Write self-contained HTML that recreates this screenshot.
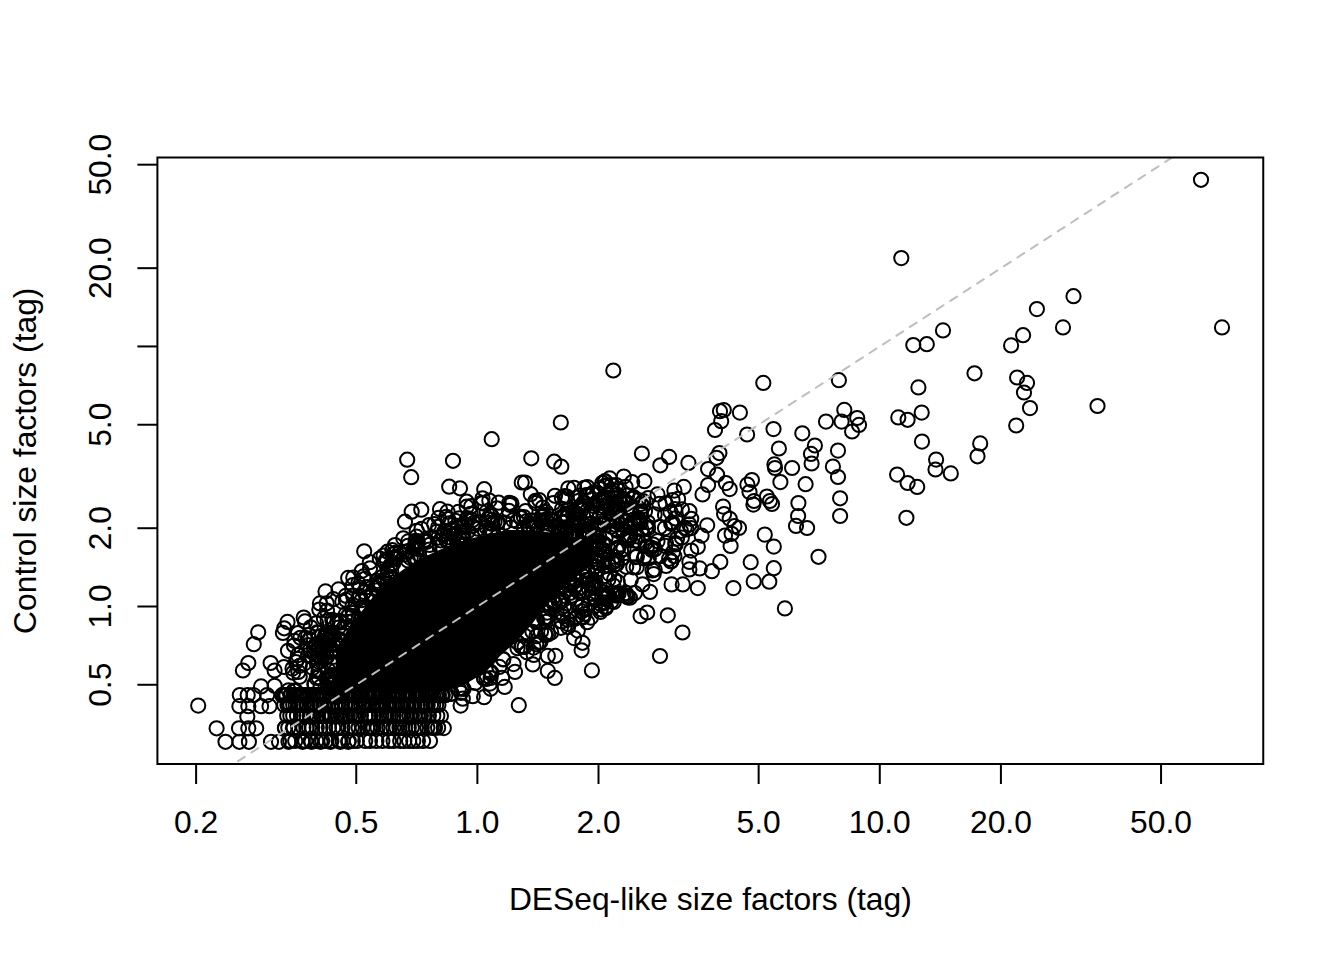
<!DOCTYPE html><html><head><meta charset="utf-8"><style>html,body{margin:0;padding:0;width:1344px;height:960px;overflow:hidden;background:#fff}</style></head><body><svg width="1344" height="960" viewBox="0 0 1344 960" style="position:absolute;left:0;top:0">
<clipPath id="cp"><rect x="157.4" y="157.5" width="1105.85" height="606.5"/></clipPath>
<g clip-path="url(#cp)">
<path d="M335.0 692.0 L336.0 650.0 L350.0 625.0 L366.0 606.0 L382.0 585.0 L404.0 569.0 L424.0 557.0 L446.0 547.0 L469.0 539.0 L489.0 534.0 L507.0 530.0 L522.0 530.0 L540.0 531.0 L560.0 534.0 L585.0 540.0 L600.0 550.0 L592.0 565.0 L570.0 582.0 L548.0 603.0 L532.0 624.0 L518.0 640.0 L500.0 656.0 L486.0 672.0 L462.0 686.0 L440.0 692.0Z" fill="#000"/>
<g fill="none" stroke="#000" stroke-width="2">
<circle cx="1201.0" cy="179.8" r="7.1"/>
<circle cx="1073.5" cy="296.2" r="7.1"/>
<circle cx="1036.9" cy="309.1" r="7.1"/>
<circle cx="1063.0" cy="327.4" r="7.1"/>
<circle cx="1222.0" cy="327.4" r="7.1"/>
<circle cx="1023.1" cy="335.2" r="7.1"/>
<circle cx="1011.1" cy="345.4" r="7.1"/>
<circle cx="1017.1" cy="377.5" r="7.1"/>
<circle cx="1027.0" cy="382.9" r="7.1"/>
<circle cx="1024.0" cy="392.5" r="7.1"/>
<circle cx="1030.0" cy="408.1" r="7.1"/>
<circle cx="1016.2" cy="425.5" r="7.1"/>
<circle cx="1097.5" cy="406.0" r="7.1"/>
<circle cx="901.3" cy="258.1" r="7.1"/>
<circle cx="943.0" cy="330.4" r="7.1"/>
<circle cx="913.3" cy="345.1" r="7.1"/>
<circle cx="926.8" cy="344.2" r="7.1"/>
<circle cx="974.5" cy="373.3" r="7.1"/>
<circle cx="918.4" cy="387.4" r="7.1"/>
<circle cx="838.9" cy="380.2" r="7.1"/>
<circle cx="763.3" cy="382.9" r="7.1"/>
<circle cx="739.9" cy="412.6" r="7.1"/>
<circle cx="844.3" cy="409.9" r="7.1"/>
<circle cx="857.2" cy="418.0" r="7.1"/>
<circle cx="826.0" cy="421.6" r="7.1"/>
<circle cx="841.6" cy="421.6" r="7.1"/>
<circle cx="859.0" cy="424.9" r="7.1"/>
<circle cx="852.1" cy="431.5" r="7.1"/>
<circle cx="898.3" cy="417.4" r="7.1"/>
<circle cx="907.6" cy="419.8" r="7.1"/>
<circle cx="921.7" cy="412.6" r="7.1"/>
<circle cx="773.5" cy="429.1" r="7.1"/>
<circle cx="747.1" cy="434.5" r="7.1"/>
<circle cx="802.3" cy="433.3" r="7.1"/>
<circle cx="922.0" cy="441.6" r="7.1"/>
<circle cx="980.2" cy="443.4" r="7.1"/>
<circle cx="977.5" cy="456.3" r="7.1"/>
<circle cx="778.9" cy="448.5" r="7.1"/>
<circle cx="814.9" cy="445.5" r="7.1"/>
<circle cx="811.0" cy="453.9" r="7.1"/>
<circle cx="838.0" cy="450.6" r="7.1"/>
<circle cx="811.6" cy="463.5" r="7.1"/>
<circle cx="774.4" cy="464.4" r="7.1"/>
<circle cx="775.0" cy="468.0" r="7.1"/>
<circle cx="792.1" cy="468.0" r="7.1"/>
<circle cx="832.9" cy="466.5" r="7.1"/>
<circle cx="838.0" cy="477.0" r="7.1"/>
<circle cx="897.1" cy="474.6" r="7.1"/>
<circle cx="936.1" cy="459.6" r="7.1"/>
<circle cx="935.5" cy="469.5" r="7.1"/>
<circle cx="950.8" cy="473.4" r="7.1"/>
<circle cx="907.6" cy="483.0" r="7.1"/>
<circle cx="917.2" cy="486.9" r="7.1"/>
<circle cx="751.9" cy="480.0" r="7.1"/>
<circle cx="747.4" cy="484.5" r="7.1"/>
<circle cx="749.5" cy="492.0" r="7.1"/>
<circle cx="780.4" cy="482.1" r="7.1"/>
<circle cx="805.6" cy="484.2" r="7.1"/>
<circle cx="766.9" cy="496.5" r="7.1"/>
<circle cx="769.9" cy="501.0" r="7.1"/>
<circle cx="772.0" cy="504.0" r="7.1"/>
<circle cx="754.0" cy="501.0" r="7.1"/>
<circle cx="753.4" cy="504.6" r="7.1"/>
<circle cx="798.4" cy="503.1" r="7.1"/>
<circle cx="798.1" cy="516.0" r="7.1"/>
<circle cx="796.0" cy="525.9" r="7.1"/>
<circle cx="807.1" cy="528.0" r="7.1"/>
<circle cx="840.1" cy="498.3" r="7.1"/>
<circle cx="840.1" cy="516.0" r="7.1"/>
<circle cx="906.4" cy="517.8" r="7.1"/>
<circle cx="739.0" cy="528.0" r="7.1"/>
<circle cx="764.8" cy="534.6" r="7.1"/>
<circle cx="773.8" cy="546.6" r="7.1"/>
<circle cx="818.5" cy="556.8" r="7.1"/>
<circle cx="750.7" cy="562.2" r="7.1"/>
<circle cx="773.8" cy="568.2" r="7.1"/>
<circle cx="753.7" cy="581.4" r="7.1"/>
<circle cx="769.3" cy="581.7" r="7.1"/>
<circle cx="784.9" cy="608.4" r="7.1"/>
<circle cx="198.2" cy="705.6" r="7.1"/>
<circle cx="216.6" cy="728.3" r="7.1"/>
<circle cx="225.5" cy="741.8" r="7.1"/>
<circle cx="258.2" cy="632.3" r="7.1"/>
<circle cx="253.8" cy="644.2" r="7.1"/>
<circle cx="248.3" cy="663.0" r="7.1"/>
<circle cx="242.9" cy="670.5" r="7.1"/>
<circle cx="270.6" cy="663.0" r="7.1"/>
<circle cx="274.6" cy="670.5" r="7.1"/>
<circle cx="261.1" cy="686.4" r="7.1"/>
<circle cx="274.6" cy="685.8" r="7.1"/>
<circle cx="282.9" cy="632.9" r="7.1"/>
<circle cx="287.5" cy="621.9" r="7.1"/>
<circle cx="303.7" cy="617.5" r="7.1"/>
<circle cx="325.5" cy="591.4" r="7.1"/>
<circle cx="348.2" cy="577.9" r="7.1"/>
<circle cx="239.8" cy="695.1" r="7.1"/>
<circle cx="247.7" cy="695.1" r="7.1"/>
<circle cx="253.6" cy="695.1" r="7.1"/>
<circle cx="267.1" cy="695.1" r="7.1"/>
<circle cx="282.9" cy="695.1" r="7.1"/>
<circle cx="239.4" cy="706.2" r="7.1"/>
<circle cx="248.3" cy="706.2" r="7.1"/>
<circle cx="261.1" cy="706.2" r="7.1"/>
<circle cx="269.5" cy="706.2" r="7.1"/>
<circle cx="247.3" cy="716.5" r="7.1"/>
<circle cx="239.0" cy="728.3" r="7.1"/>
<circle cx="248.3" cy="728.3" r="7.1"/>
<circle cx="256.2" cy="728.3" r="7.1"/>
<circle cx="284.9" cy="728.3" r="7.1"/>
<circle cx="292.8" cy="728.3" r="7.1"/>
<circle cx="239.4" cy="741.8" r="7.1"/>
<circle cx="248.9" cy="741.8" r="7.1"/>
<circle cx="271.0" cy="741.8" r="7.1"/>
<circle cx="279.0" cy="741.8" r="7.1"/>
<circle cx="288.5" cy="741.8" r="7.1"/>
<circle cx="302.7" cy="741.8" r="7.1"/>
<circle cx="311.6" cy="741.8" r="7.1"/>
<circle cx="320.5" cy="741.8" r="7.1"/>
<circle cx="330.4" cy="741.8" r="7.1"/>
<circle cx="340.3" cy="741.8" r="7.1"/>
<circle cx="348.2" cy="741.8" r="7.1"/>
<circle cx="411.2" cy="477.2" r="7.1"/>
<circle cx="411.7" cy="511.7" r="7.1"/>
<circle cx="421.3" cy="509.7" r="7.1"/>
<circle cx="405.0" cy="521.7" r="7.1"/>
<circle cx="364.2" cy="551.3" r="7.1"/>
<circle cx="387.5" cy="551.7" r="7.1"/>
<circle cx="403.3" cy="538.3" r="7.1"/>
<circle cx="395.0" cy="545.0" r="7.1"/>
<circle cx="416.7" cy="530.8" r="7.1"/>
<circle cx="353.3" cy="577.5" r="7.1"/>
<circle cx="358.3" cy="583.3" r="7.1"/>
<circle cx="370.0" cy="568.3" r="7.1"/>
<circle cx="345.8" cy="595.8" r="7.1"/>
<circle cx="326.7" cy="603.3" r="7.1"/>
<circle cx="333.3" cy="599.2" r="7.1"/>
<circle cx="284.2" cy="628.3" r="7.1"/>
<circle cx="560.8" cy="422.5" r="7.1"/>
<circle cx="491.7" cy="439.2" r="7.1"/>
<circle cx="453.0" cy="460.8" r="7.1"/>
<circle cx="531.3" cy="458.3" r="7.1"/>
<circle cx="554.2" cy="461.7" r="7.1"/>
<circle cx="561.3" cy="466.7" r="7.1"/>
<circle cx="407.2" cy="459.7" r="7.1"/>
<circle cx="449.2" cy="486.7" r="7.1"/>
<circle cx="460.0" cy="488.3" r="7.1"/>
<circle cx="484.2" cy="489.2" r="7.1"/>
<circle cx="521.7" cy="482.5" r="7.1"/>
<circle cx="525.0" cy="482.5" r="7.1"/>
<circle cx="530.8" cy="494.2" r="7.1"/>
<circle cx="539.2" cy="500.0" r="7.1"/>
<circle cx="555.0" cy="495.8" r="7.1"/>
<circle cx="568.3" cy="488.3" r="7.1"/>
<circle cx="440.0" cy="509.2" r="7.1"/>
<circle cx="447.5" cy="511.7" r="7.1"/>
<circle cx="466.7" cy="501.7" r="7.1"/>
<circle cx="466.7" cy="506.7" r="7.1"/>
<circle cx="482.5" cy="503.3" r="7.1"/>
<circle cx="482.5" cy="498.3" r="7.1"/>
<circle cx="510.0" cy="505.0" r="7.1"/>
<circle cx="496.7" cy="508.3" r="7.1"/>
<circle cx="434.2" cy="524.2" r="7.1"/>
<circle cx="459.2" cy="518.3" r="7.1"/>
<circle cx="449.2" cy="523.3" r="7.1"/>
<circle cx="641.9" cy="453.5" r="7.1"/>
<circle cx="669.1" cy="456.9" r="7.1"/>
<circle cx="660.3" cy="465.3" r="7.1"/>
<circle cx="688.4" cy="462.9" r="7.1"/>
<circle cx="719.4" cy="453.1" r="7.1"/>
<circle cx="716.6" cy="457.8" r="7.1"/>
<circle cx="708.1" cy="469.1" r="7.1"/>
<circle cx="717.1" cy="474.7" r="7.1"/>
<circle cx="725.9" cy="483.1" r="7.1"/>
<circle cx="729.7" cy="489.1" r="7.1"/>
<circle cx="708.1" cy="485.0" r="7.1"/>
<circle cx="702.5" cy="494.4" r="7.1"/>
<circle cx="683.8" cy="486.9" r="7.1"/>
<circle cx="674.4" cy="490.6" r="7.1"/>
<circle cx="644.4" cy="481.2" r="7.1"/>
<circle cx="632.2" cy="482.2" r="7.1"/>
<circle cx="623.8" cy="476.6" r="7.1"/>
<circle cx="609.7" cy="478.4" r="7.1"/>
<circle cx="605.0" cy="481.2" r="7.1"/>
<circle cx="599.4" cy="488.8" r="7.1"/>
<circle cx="584.4" cy="487.8" r="7.1"/>
<circle cx="586.2" cy="495.3" r="7.1"/>
<circle cx="574.1" cy="487.8" r="7.1"/>
<circle cx="564.7" cy="496.2" r="7.1"/>
<circle cx="623.8" cy="500.0" r="7.1"/>
<circle cx="607.8" cy="505.6" r="7.1"/>
<circle cx="616.2" cy="485.0" r="7.1"/>
<circle cx="625.6" cy="486.9" r="7.1"/>
<circle cx="657.5" cy="494.4" r="7.1"/>
<circle cx="648.1" cy="498.1" r="7.1"/>
<circle cx="672.5" cy="500.0" r="7.1"/>
<circle cx="659.4" cy="503.8" r="7.1"/>
<circle cx="681.9" cy="509.4" r="7.1"/>
<circle cx="689.4" cy="511.2" r="7.1"/>
<circle cx="691.2" cy="518.8" r="7.1"/>
<circle cx="689.4" cy="524.4" r="7.1"/>
<circle cx="691.2" cy="528.1" r="7.1"/>
<circle cx="707.2" cy="525.3" r="7.1"/>
<circle cx="701.6" cy="535.6" r="7.1"/>
<circle cx="723.1" cy="506.6" r="7.1"/>
<circle cx="724.1" cy="514.1" r="7.1"/>
<circle cx="729.7" cy="518.8" r="7.1"/>
<circle cx="734.4" cy="526.2" r="7.1"/>
<circle cx="725.0" cy="535.6" r="7.1"/>
<circle cx="731.6" cy="533.8" r="7.1"/>
<circle cx="730.6" cy="545.9" r="7.1"/>
<circle cx="720.3" cy="561.9" r="7.1"/>
<circle cx="711.9" cy="571.2" r="7.1"/>
<circle cx="699.7" cy="568.4" r="7.1"/>
<circle cx="689.4" cy="561.9" r="7.1"/>
<circle cx="689.4" cy="569.4" r="7.1"/>
<circle cx="691.2" cy="550.6" r="7.1"/>
<circle cx="697.8" cy="546.9" r="7.1"/>
<circle cx="674.4" cy="556.2" r="7.1"/>
<circle cx="660.3" cy="556.2" r="7.1"/>
<circle cx="654.7" cy="569.4" r="7.1"/>
<circle cx="671.6" cy="584.4" r="7.1"/>
<circle cx="682.8" cy="584.4" r="7.1"/>
<circle cx="697.8" cy="588.1" r="7.1"/>
<circle cx="733.4" cy="588.1" r="7.1"/>
<circle cx="650.0" cy="591.9" r="7.1"/>
<circle cx="642.5" cy="584.4" r="7.1"/>
<circle cx="625.6" cy="595.6" r="7.1"/>
<circle cx="616.2" cy="593.8" r="7.1"/>
<circle cx="667.8" cy="615.3" r="7.1"/>
<circle cx="647.2" cy="612.5" r="7.1"/>
<circle cx="640.6" cy="616.2" r="7.1"/>
<circle cx="672.5" cy="522.5" r="7.1"/>
<circle cx="665.0" cy="528.1" r="7.1"/>
<circle cx="657.5" cy="541.2" r="7.1"/>
<circle cx="675.3" cy="543.1" r="7.1"/>
<circle cx="681.9" cy="537.5" r="7.1"/>
<circle cx="665.0" cy="515.0" r="7.1"/>
<circle cx="640.6" cy="522.5" r="7.1"/>
<circle cx="648.1" cy="528.1" r="7.1"/>
<circle cx="518.8" cy="705.2" r="7.1"/>
<circle cx="591.9" cy="670.4" r="7.1"/>
<circle cx="554.8" cy="677.9" r="7.1"/>
<circle cx="547.8" cy="670.9" r="7.1"/>
<circle cx="555.3" cy="655.9" r="7.1"/>
<circle cx="547.8" cy="655.9" r="7.1"/>
<circle cx="532.8" cy="664.4" r="7.1"/>
<circle cx="515.0" cy="671.9" r="7.1"/>
<circle cx="504.7" cy="686.9" r="7.1"/>
<circle cx="490.6" cy="688.8" r="7.1"/>
<circle cx="484.1" cy="697.2" r="7.1"/>
<circle cx="472.8" cy="696.2" r="7.1"/>
<circle cx="460.6" cy="705.6" r="7.1"/>
<circle cx="443.8" cy="728.1" r="7.1"/>
<circle cx="440.9" cy="715.9" r="7.1"/>
<circle cx="587.2" cy="622.2" r="7.1"/>
<circle cx="577.8" cy="630.6" r="7.1"/>
<circle cx="574.1" cy="638.1" r="7.1"/>
<circle cx="582.5" cy="642.8" r="7.1"/>
<circle cx="581.6" cy="650.3" r="7.1"/>
<circle cx="561.9" cy="612.8" r="7.1"/>
<circle cx="560.9" cy="627.8" r="7.1"/>
<circle cx="605.9" cy="608.1" r="7.1"/>
<circle cx="605.0" cy="602.5" r="7.1"/>
<circle cx="580.6" cy="607.2" r="7.1"/>
<circle cx="540.3" cy="641.9" r="7.1"/>
<circle cx="545.0" cy="634.4" r="7.1"/>
<circle cx="682.5" cy="632.5" r="7.1"/>
<circle cx="660.0" cy="656.0" r="7.1"/>
<circle cx="720.0" cy="411.2" r="7.1"/>
<circle cx="723.8" cy="410.0" r="7.1"/>
<circle cx="721.2" cy="421.2" r="7.1"/>
<circle cx="715.0" cy="430.0" r="7.1"/>
<circle cx="613.3" cy="370.5" r="7.1"/>
<circle cx="611.3" cy="492.1" r="7.1"/>
<circle cx="328.3" cy="678.0" r="7.1"/>
<circle cx="530.3" cy="527.6" r="7.1"/>
<circle cx="560.5" cy="529.4" r="7.1"/>
<circle cx="537.2" cy="524.9" r="7.1"/>
<circle cx="438.6" cy="517.9" r="7.1"/>
<circle cx="571.6" cy="595.7" r="7.1"/>
<circle cx="352.8" cy="585.2" r="7.1"/>
<circle cx="565.3" cy="514.2" r="7.1"/>
<circle cx="415.6" cy="540.9" r="7.1"/>
<circle cx="568.1" cy="627.1" r="7.1"/>
<circle cx="443.6" cy="533.8" r="7.1"/>
<circle cx="616.3" cy="529.3" r="7.1"/>
<circle cx="579.2" cy="592.3" r="7.1"/>
<circle cx="331.7" cy="675.3" r="7.1"/>
<circle cx="463.1" cy="532.0" r="7.1"/>
<circle cx="384.1" cy="580.1" r="7.1"/>
<circle cx="626.2" cy="566.8" r="7.1"/>
<circle cx="590.9" cy="584.7" r="7.1"/>
<circle cx="430.1" cy="553.8" r="7.1"/>
<circle cx="421.5" cy="528.9" r="7.1"/>
<circle cx="595.1" cy="597.8" r="7.1"/>
<circle cx="366.7" cy="597.4" r="7.1"/>
<circle cx="670.5" cy="512.0" r="7.1"/>
<circle cx="536.1" cy="621.2" r="7.1"/>
<circle cx="633.0" cy="522.3" r="7.1"/>
<circle cx="352.8" cy="613.1" r="7.1"/>
<circle cx="520.2" cy="516.5" r="7.1"/>
<circle cx="492.2" cy="524.0" r="7.1"/>
<circle cx="606.6" cy="595.4" r="7.1"/>
<circle cx="587.3" cy="487.0" r="7.1"/>
<circle cx="364.2" cy="591.9" r="7.1"/>
<circle cx="342.5" cy="635.4" r="7.1"/>
<circle cx="551.2" cy="519.3" r="7.1"/>
<circle cx="474.4" cy="522.8" r="7.1"/>
<circle cx="595.3" cy="529.5" r="7.1"/>
<circle cx="323.9" cy="618.3" r="7.1"/>
<circle cx="530.7" cy="520.9" r="7.1"/>
<circle cx="509.2" cy="502.9" r="7.1"/>
<circle cx="337.5" cy="623.0" r="7.1"/>
<circle cx="542.1" cy="516.0" r="7.1"/>
<circle cx="297.4" cy="658.9" r="7.1"/>
<circle cx="616.6" cy="520.7" r="7.1"/>
<circle cx="623.3" cy="535.2" r="7.1"/>
<circle cx="396.1" cy="552.5" r="7.1"/>
<circle cx="640.1" cy="522.9" r="7.1"/>
<circle cx="551.0" cy="605.4" r="7.1"/>
<circle cx="471.2" cy="506.2" r="7.1"/>
<circle cx="340.7" cy="622.4" r="7.1"/>
<circle cx="583.2" cy="617.3" r="7.1"/>
<circle cx="408.2" cy="541.4" r="7.1"/>
<circle cx="328.0" cy="633.8" r="7.1"/>
<circle cx="313.7" cy="694.6" r="7.1"/>
<circle cx="388.1" cy="692.8" r="7.1"/>
<circle cx="533.6" cy="520.7" r="7.1"/>
<circle cx="598.8" cy="500.0" r="7.1"/>
<circle cx="584.1" cy="532.4" r="7.1"/>
<circle cx="295.7" cy="691.1" r="7.1"/>
<circle cx="544.1" cy="618.3" r="7.1"/>
<circle cx="582.4" cy="535.1" r="7.1"/>
<circle cx="547.4" cy="616.8" r="7.1"/>
<circle cx="541.8" cy="517.1" r="7.1"/>
<circle cx="309.6" cy="639.2" r="7.1"/>
<circle cx="353.1" cy="595.7" r="7.1"/>
<circle cx="390.1" cy="565.7" r="7.1"/>
<circle cx="308.1" cy="655.1" r="7.1"/>
<circle cx="630.9" cy="527.7" r="7.1"/>
<circle cx="417.5" cy="548.2" r="7.1"/>
<circle cx="364.6" cy="607.0" r="7.1"/>
<circle cx="626.0" cy="593.2" r="7.1"/>
<circle cx="485.1" cy="531.6" r="7.1"/>
<circle cx="613.8" cy="601.9" r="7.1"/>
<circle cx="399.4" cy="553.1" r="7.1"/>
<circle cx="594.7" cy="524.9" r="7.1"/>
<circle cx="489.5" cy="671.0" r="7.1"/>
<circle cx="414.1" cy="547.7" r="7.1"/>
<circle cx="378.0" cy="585.2" r="7.1"/>
<circle cx="617.3" cy="548.0" r="7.1"/>
<circle cx="475.2" cy="682.9" r="7.1"/>
<circle cx="298.4" cy="672.0" r="7.1"/>
<circle cx="345.9" cy="599.9" r="7.1"/>
<circle cx="622.8" cy="518.8" r="7.1"/>
<circle cx="339.3" cy="620.5" r="7.1"/>
<circle cx="567.1" cy="517.7" r="7.1"/>
<circle cx="329.5" cy="684.5" r="7.1"/>
<circle cx="358.4" cy="599.0" r="7.1"/>
<circle cx="392.3" cy="550.2" r="7.1"/>
<circle cx="588.1" cy="571.7" r="7.1"/>
<circle cx="372.3" cy="595.7" r="7.1"/>
<circle cx="651.9" cy="550.0" r="7.1"/>
<circle cx="617.7" cy="581.8" r="7.1"/>
<circle cx="614.1" cy="497.6" r="7.1"/>
<circle cx="414.6" cy="559.0" r="7.1"/>
<circle cx="590.6" cy="527.7" r="7.1"/>
<circle cx="607.5" cy="546.5" r="7.1"/>
<circle cx="595.8" cy="600.0" r="7.1"/>
<circle cx="377.0" cy="580.9" r="7.1"/>
<circle cx="317.1" cy="632.3" r="7.1"/>
<circle cx="295.9" cy="662.1" r="7.1"/>
<circle cx="536.5" cy="636.2" r="7.1"/>
<circle cx="571.7" cy="583.8" r="7.1"/>
<circle cx="627.8" cy="597.3" r="7.1"/>
<circle cx="588.2" cy="531.7" r="7.1"/>
<circle cx="564.0" cy="517.1" r="7.1"/>
<circle cx="582.3" cy="616.8" r="7.1"/>
<circle cx="643.3" cy="535.1" r="7.1"/>
<circle cx="558.8" cy="602.1" r="7.1"/>
<circle cx="319.3" cy="609.5" r="7.1"/>
<circle cx="566.3" cy="533.3" r="7.1"/>
<circle cx="567.7" cy="528.3" r="7.1"/>
<circle cx="577.4" cy="508.5" r="7.1"/>
<circle cx="609.5" cy="521.0" r="7.1"/>
<circle cx="362.7" cy="609.1" r="7.1"/>
<circle cx="386.9" cy="561.3" r="7.1"/>
<circle cx="567.8" cy="516.2" r="7.1"/>
<circle cx="504.8" cy="522.6" r="7.1"/>
<circle cx="352.9" cy="621.1" r="7.1"/>
<circle cx="438.6" cy="693.7" r="7.1"/>
<circle cx="596.7" cy="512.7" r="7.1"/>
<circle cx="331.7" cy="685.3" r="7.1"/>
<circle cx="352.7" cy="604.9" r="7.1"/>
<circle cx="489.9" cy="532.7" r="7.1"/>
<circle cx="555.0" cy="526.0" r="7.1"/>
<circle cx="342.3" cy="601.6" r="7.1"/>
<circle cx="593.0" cy="505.8" r="7.1"/>
<circle cx="587.3" cy="570.3" r="7.1"/>
<circle cx="528.3" cy="526.3" r="7.1"/>
<circle cx="508.9" cy="510.8" r="7.1"/>
<circle cx="317.6" cy="654.4" r="7.1"/>
<circle cx="605.9" cy="485.3" r="7.1"/>
<circle cx="408.0" cy="560.4" r="7.1"/>
<circle cx="292.5" cy="668.6" r="7.1"/>
<circle cx="334.0" cy="621.0" r="7.1"/>
<circle cx="614.0" cy="556.7" r="7.1"/>
<circle cx="597.1" cy="563.0" r="7.1"/>
<circle cx="616.5" cy="549.9" r="7.1"/>
<circle cx="558.1" cy="526.5" r="7.1"/>
<circle cx="334.6" cy="691.5" r="7.1"/>
<circle cx="626.4" cy="504.1" r="7.1"/>
<circle cx="320.8" cy="657.2" r="7.1"/>
<circle cx="675.6" cy="544.5" r="7.1"/>
<circle cx="333.0" cy="644.7" r="7.1"/>
<circle cx="450.7" cy="693.9" r="7.1"/>
<circle cx="467.6" cy="531.6" r="7.1"/>
<circle cx="653.1" cy="544.5" r="7.1"/>
<circle cx="589.1" cy="604.2" r="7.1"/>
<circle cx="562.1" cy="508.9" r="7.1"/>
<circle cx="567.5" cy="619.7" r="7.1"/>
<circle cx="610.3" cy="508.3" r="7.1"/>
<circle cx="576.2" cy="537.0" r="7.1"/>
<circle cx="454.1" cy="534.2" r="7.1"/>
<circle cx="645.0" cy="511.3" r="7.1"/>
<circle cx="542.7" cy="523.1" r="7.1"/>
<circle cx="561.6" cy="517.0" r="7.1"/>
<circle cx="330.4" cy="652.1" r="7.1"/>
<circle cx="565.3" cy="609.5" r="7.1"/>
<circle cx="575.8" cy="599.0" r="7.1"/>
<circle cx="581.4" cy="510.3" r="7.1"/>
<circle cx="641.0" cy="511.3" r="7.1"/>
<circle cx="589.8" cy="579.6" r="7.1"/>
<circle cx="324.8" cy="658.3" r="7.1"/>
<circle cx="603.5" cy="514.9" r="7.1"/>
<circle cx="588.5" cy="583.1" r="7.1"/>
<circle cx="647.0" cy="546.5" r="7.1"/>
<circle cx="361.5" cy="600.2" r="7.1"/>
<circle cx="595.4" cy="527.5" r="7.1"/>
<circle cx="574.3" cy="587.5" r="7.1"/>
<circle cx="595.2" cy="536.1" r="7.1"/>
<circle cx="600.8" cy="609.4" r="7.1"/>
<circle cx="526.5" cy="632.1" r="7.1"/>
<circle cx="388.7" cy="572.6" r="7.1"/>
<circle cx="553.8" cy="601.6" r="7.1"/>
<circle cx="436.9" cy="531.5" r="7.1"/>
<circle cx="680.9" cy="530.9" r="7.1"/>
<circle cx="659.9" cy="526.9" r="7.1"/>
<circle cx="332.1" cy="649.5" r="7.1"/>
<circle cx="638.4" cy="500.2" r="7.1"/>
<circle cx="294.0" cy="645.5" r="7.1"/>
<circle cx="319.0" cy="669.6" r="7.1"/>
<circle cx="335.5" cy="670.5" r="7.1"/>
<circle cx="604.3" cy="497.3" r="7.1"/>
<circle cx="608.7" cy="497.5" r="7.1"/>
<circle cx="553.2" cy="503.0" r="7.1"/>
<circle cx="333.1" cy="681.4" r="7.1"/>
<circle cx="369.8" cy="562.2" r="7.1"/>
<circle cx="665.2" cy="545.9" r="7.1"/>
<circle cx="491.8" cy="516.3" r="7.1"/>
<circle cx="329.4" cy="679.4" r="7.1"/>
<circle cx="596.5" cy="534.4" r="7.1"/>
<circle cx="561.5" cy="532.3" r="7.1"/>
<circle cx="443.0" cy="535.3" r="7.1"/>
<circle cx="393.1" cy="558.0" r="7.1"/>
<circle cx="462.8" cy="698.7" r="7.1"/>
<circle cx="566.5" cy="590.6" r="7.1"/>
<circle cx="613.3" cy="512.4" r="7.1"/>
<circle cx="318.6" cy="677.3" r="7.1"/>
<circle cx="638.3" cy="519.0" r="7.1"/>
<circle cx="417.4" cy="694.9" r="7.1"/>
<circle cx="545.9" cy="634.9" r="7.1"/>
<circle cx="570.2" cy="592.9" r="7.1"/>
<circle cx="310.7" cy="627.3" r="7.1"/>
<circle cx="517.7" cy="642.5" r="7.1"/>
<circle cx="611.8" cy="489.4" r="7.1"/>
<circle cx="646.1" cy="527.5" r="7.1"/>
<circle cx="310.2" cy="649.7" r="7.1"/>
<circle cx="305.0" cy="621.4" r="7.1"/>
<circle cx="314.9" cy="684.6" r="7.1"/>
<circle cx="547.2" cy="612.6" r="7.1"/>
<circle cx="589.5" cy="534.2" r="7.1"/>
<circle cx="639.2" cy="521.3" r="7.1"/>
<circle cx="348.6" cy="615.4" r="7.1"/>
<circle cx="448.4" cy="537.2" r="7.1"/>
<circle cx="669.2" cy="558.8" r="7.1"/>
<circle cx="552.1" cy="521.1" r="7.1"/>
<circle cx="593.6" cy="585.1" r="7.1"/>
<circle cx="574.1" cy="619.0" r="7.1"/>
<circle cx="618.6" cy="490.6" r="7.1"/>
<circle cx="362.4" cy="608.0" r="7.1"/>
<circle cx="299.7" cy="676.8" r="7.1"/>
<circle cx="478.5" cy="522.3" r="7.1"/>
<circle cx="586.0" cy="532.0" r="7.1"/>
<circle cx="630.8" cy="579.6" r="7.1"/>
<circle cx="569.6" cy="533.7" r="7.1"/>
<circle cx="394.8" cy="694.1" r="7.1"/>
<circle cx="592.2" cy="593.8" r="7.1"/>
<circle cx="465.2" cy="524.3" r="7.1"/>
<circle cx="613.4" cy="585.6" r="7.1"/>
<circle cx="585.5" cy="537.9" r="7.1"/>
<circle cx="369.4" cy="695.9" r="7.1"/>
<circle cx="386.1" cy="559.8" r="7.1"/>
<circle cx="653.7" cy="574.1" r="7.1"/>
<circle cx="329.4" cy="645.5" r="7.1"/>
<circle cx="593.3" cy="492.5" r="7.1"/>
<circle cx="586.6" cy="580.0" r="7.1"/>
<circle cx="561.6" cy="599.2" r="7.1"/>
<circle cx="360.0" cy="596.2" r="7.1"/>
<circle cx="535.5" cy="500.8" r="7.1"/>
<circle cx="621.4" cy="558.4" r="7.1"/>
<circle cx="641.5" cy="529.6" r="7.1"/>
<circle cx="595.3" cy="581.9" r="7.1"/>
<circle cx="329.5" cy="688.0" r="7.1"/>
<circle cx="648.8" cy="558.3" r="7.1"/>
<circle cx="666.0" cy="543.2" r="7.1"/>
<circle cx="419.1" cy="554.7" r="7.1"/>
<circle cx="587.0" cy="495.2" r="7.1"/>
<circle cx="605.9" cy="606.4" r="7.1"/>
<circle cx="627.1" cy="596.7" r="7.1"/>
<circle cx="528.3" cy="525.2" r="7.1"/>
<circle cx="327.3" cy="644.6" r="7.1"/>
<circle cx="391.2" cy="571.3" r="7.1"/>
<circle cx="638.2" cy="541.2" r="7.1"/>
<circle cx="323.1" cy="651.7" r="7.1"/>
<circle cx="584.9" cy="534.9" r="7.1"/>
<circle cx="674.8" cy="509.0" r="7.1"/>
<circle cx="417.6" cy="542.0" r="7.1"/>
<circle cx="632.7" cy="498.7" r="7.1"/>
<circle cx="316.7" cy="677.9" r="7.1"/>
<circle cx="383.6" cy="555.6" r="7.1"/>
<circle cx="603.3" cy="602.5" r="7.1"/>
<circle cx="497.8" cy="522.0" r="7.1"/>
<circle cx="545.9" cy="621.8" r="7.1"/>
<circle cx="608.3" cy="596.8" r="7.1"/>
<circle cx="387.5" cy="570.2" r="7.1"/>
<circle cx="416.3" cy="543.6" r="7.1"/>
<circle cx="499.3" cy="666.9" r="7.1"/>
<circle cx="570.6" cy="535.6" r="7.1"/>
<circle cx="492.1" cy="530.9" r="7.1"/>
<circle cx="546.0" cy="618.0" r="7.1"/>
<circle cx="640.9" cy="504.0" r="7.1"/>
<circle cx="558.6" cy="528.0" r="7.1"/>
<circle cx="573.3" cy="530.9" r="7.1"/>
<circle cx="463.5" cy="688.9" r="7.1"/>
<circle cx="543.7" cy="515.4" r="7.1"/>
<circle cx="654.6" cy="514.4" r="7.1"/>
<circle cx="600.9" cy="604.2" r="7.1"/>
<circle cx="564.5" cy="521.9" r="7.1"/>
<circle cx="327.0" cy="656.8" r="7.1"/>
<circle cx="614.3" cy="595.0" r="7.1"/>
<circle cx="444.7" cy="531.0" r="7.1"/>
<circle cx="484.2" cy="678.4" r="7.1"/>
<circle cx="326.9" cy="639.4" r="7.1"/>
<circle cx="671.2" cy="523.8" r="7.1"/>
<circle cx="571.9" cy="525.1" r="7.1"/>
<circle cx="555.0" cy="602.2" r="7.1"/>
<circle cx="550.0" cy="524.0" r="7.1"/>
<circle cx="340.4" cy="641.5" r="7.1"/>
<circle cx="522.0" cy="646.4" r="7.1"/>
<circle cx="490.7" cy="673.4" r="7.1"/>
<circle cx="574.9" cy="586.3" r="7.1"/>
<circle cx="611.7" cy="513.8" r="7.1"/>
<circle cx="626.7" cy="522.2" r="7.1"/>
<circle cx="457.1" cy="542.1" r="7.1"/>
<circle cx="568.2" cy="584.9" r="7.1"/>
<circle cx="516.9" cy="521.4" r="7.1"/>
<circle cx="598.9" cy="548.7" r="7.1"/>
<circle cx="608.5" cy="565.6" r="7.1"/>
<circle cx="293.9" cy="690.6" r="7.1"/>
<circle cx="631.4" cy="525.4" r="7.1"/>
<circle cx="675.5" cy="518.4" r="7.1"/>
<circle cx="578.3" cy="588.7" r="7.1"/>
<circle cx="652.5" cy="570.4" r="7.1"/>
<circle cx="583.8" cy="506.1" r="7.1"/>
<circle cx="391.5" cy="564.9" r="7.1"/>
<circle cx="319.1" cy="655.2" r="7.1"/>
<circle cx="635.0" cy="540.7" r="7.1"/>
<circle cx="379.8" cy="558.6" r="7.1"/>
<circle cx="617.3" cy="522.3" r="7.1"/>
<circle cx="629.9" cy="597.7" r="7.1"/>
<circle cx="308.3" cy="635.1" r="7.1"/>
<circle cx="548.9" cy="528.7" r="7.1"/>
<circle cx="327.0" cy="635.7" r="7.1"/>
<circle cx="336.7" cy="696.8" r="7.1"/>
<circle cx="462.4" cy="527.6" r="7.1"/>
<circle cx="567.9" cy="624.0" r="7.1"/>
<circle cx="617.3" cy="494.8" r="7.1"/>
<circle cx="448.2" cy="540.1" r="7.1"/>
<circle cx="486.5" cy="678.9" r="7.1"/>
<circle cx="347.7" cy="621.9" r="7.1"/>
<circle cx="615.7" cy="525.0" r="7.1"/>
<circle cx="390.6" cy="576.9" r="7.1"/>
<circle cx="493.1" cy="533.1" r="7.1"/>
<circle cx="620.5" cy="507.7" r="7.1"/>
<circle cx="486.7" cy="527.6" r="7.1"/>
<circle cx="333.9" cy="663.6" r="7.1"/>
<circle cx="601.9" cy="525.0" r="7.1"/>
<circle cx="623.1" cy="594.7" r="7.1"/>
<circle cx="513.2" cy="520.2" r="7.1"/>
<circle cx="599.9" cy="516.8" r="7.1"/>
<circle cx="627.9" cy="540.1" r="7.1"/>
<circle cx="665.6" cy="503.3" r="7.1"/>
<circle cx="633.2" cy="567.3" r="7.1"/>
<circle cx="502.1" cy="677.9" r="7.1"/>
<circle cx="498.7" cy="502.7" r="7.1"/>
<circle cx="564.3" cy="605.8" r="7.1"/>
<circle cx="638.7" cy="519.7" r="7.1"/>
<circle cx="580.1" cy="495.7" r="7.1"/>
<circle cx="586.7" cy="579.8" r="7.1"/>
<circle cx="410.7" cy="558.1" r="7.1"/>
<circle cx="599.3" cy="536.5" r="7.1"/>
<circle cx="559.5" cy="600.1" r="7.1"/>
<circle cx="546.0" cy="519.5" r="7.1"/>
<circle cx="612.5" cy="562.8" r="7.1"/>
<circle cx="623.4" cy="499.2" r="7.1"/>
<circle cx="591.5" cy="523.7" r="7.1"/>
<circle cx="338.5" cy="627.6" r="7.1"/>
<circle cx="640.0" cy="512.5" r="7.1"/>
<circle cx="583.1" cy="576.3" r="7.1"/>
<circle cx="329.8" cy="680.9" r="7.1"/>
<circle cx="304.2" cy="663.6" r="7.1"/>
<circle cx="604.4" cy="559.8" r="7.1"/>
<circle cx="363.6" cy="576.4" r="7.1"/>
<circle cx="416.5" cy="536.7" r="7.1"/>
<circle cx="523.9" cy="517.0" r="7.1"/>
<circle cx="511.5" cy="503.5" r="7.1"/>
<circle cx="294.5" cy="640.9" r="7.1"/>
<circle cx="622.5" cy="529.3" r="7.1"/>
<circle cx="332.3" cy="634.7" r="7.1"/>
<circle cx="623.5" cy="548.8" r="7.1"/>
<circle cx="461.0" cy="692.9" r="7.1"/>
<circle cx="378.3" cy="697.0" r="7.1"/>
<circle cx="550.5" cy="608.3" r="7.1"/>
<circle cx="595.9" cy="528.1" r="7.1"/>
<circle cx="328.2" cy="670.0" r="7.1"/>
<circle cx="393.2" cy="563.6" r="7.1"/>
<circle cx="314.3" cy="684.1" r="7.1"/>
<circle cx="575.1" cy="519.0" r="7.1"/>
<circle cx="339.2" cy="639.0" r="7.1"/>
<circle cx="615.5" cy="504.0" r="7.1"/>
<circle cx="417.6" cy="541.3" r="7.1"/>
<circle cx="585.1" cy="609.4" r="7.1"/>
<circle cx="616.9" cy="564.1" r="7.1"/>
<circle cx="319.9" cy="603.4" r="7.1"/>
<circle cx="487.8" cy="519.1" r="7.1"/>
<circle cx="472.3" cy="520.2" r="7.1"/>
<circle cx="330.0" cy="639.3" r="7.1"/>
<circle cx="387.6" cy="578.9" r="7.1"/>
<circle cx="336.5" cy="644.8" r="7.1"/>
<circle cx="327.7" cy="621.1" r="7.1"/>
<circle cx="415.9" cy="544.5" r="7.1"/>
<circle cx="470.6" cy="513.8" r="7.1"/>
<circle cx="546.2" cy="527.8" r="7.1"/>
<circle cx="533.4" cy="527.1" r="7.1"/>
<circle cx="347.6" cy="616.9" r="7.1"/>
<circle cx="588.9" cy="588.8" r="7.1"/>
<circle cx="454.3" cy="529.5" r="7.1"/>
<circle cx="677.0" cy="538.7" r="7.1"/>
<circle cx="524.5" cy="635.5" r="7.1"/>
<circle cx="587.4" cy="530.5" r="7.1"/>
<circle cx="416.0" cy="695.4" r="7.1"/>
<circle cx="308.3" cy="645.1" r="7.1"/>
<circle cx="666.1" cy="565.9" r="7.1"/>
<circle cx="391.3" cy="565.8" r="7.1"/>
<circle cx="615.5" cy="564.1" r="7.1"/>
<circle cx="439.7" cy="546.9" r="7.1"/>
<circle cx="426.8" cy="541.8" r="7.1"/>
<circle cx="592.6" cy="494.0" r="7.1"/>
<circle cx="615.6" cy="507.6" r="7.1"/>
<circle cx="605.0" cy="501.2" r="7.1"/>
<circle cx="575.8" cy="580.8" r="7.1"/>
<circle cx="312.7" cy="668.0" r="7.1"/>
<circle cx="334.7" cy="639.7" r="7.1"/>
<circle cx="305.3" cy="637.9" r="7.1"/>
<circle cx="438.3" cy="537.6" r="7.1"/>
<circle cx="462.3" cy="524.9" r="7.1"/>
<circle cx="316.1" cy="623.3" r="7.1"/>
<circle cx="517.5" cy="648.2" r="7.1"/>
<circle cx="595.4" cy="588.1" r="7.1"/>
<circle cx="424.0" cy="541.5" r="7.1"/>
<circle cx="538.7" cy="642.7" r="7.1"/>
<circle cx="606.3" cy="554.0" r="7.1"/>
<circle cx="594.9" cy="503.7" r="7.1"/>
<circle cx="414.9" cy="546.9" r="7.1"/>
<circle cx="417.5" cy="560.6" r="7.1"/>
<circle cx="448.3" cy="532.9" r="7.1"/>
<circle cx="481.6" cy="502.8" r="7.1"/>
<circle cx="546.0" cy="512.1" r="7.1"/>
<circle cx="604.9" cy="575.9" r="7.1"/>
<circle cx="458.4" cy="511.9" r="7.1"/>
<circle cx="600.4" cy="612.0" r="7.1"/>
<circle cx="671.0" cy="561.4" r="7.1"/>
<circle cx="330.6" cy="634.5" r="7.1"/>
<circle cx="325.8" cy="640.3" r="7.1"/>
<circle cx="342.0" cy="692.8" r="7.1"/>
<circle cx="617.2" cy="530.7" r="7.1"/>
<circle cx="567.7" cy="509.5" r="7.1"/>
<circle cx="565.4" cy="534.3" r="7.1"/>
<circle cx="635.8" cy="557.1" r="7.1"/>
<circle cx="314.3" cy="651.5" r="7.1"/>
<circle cx="602.7" cy="543.2" r="7.1"/>
<circle cx="580.0" cy="591.1" r="7.1"/>
<circle cx="315.7" cy="644.7" r="7.1"/>
<circle cx="318.6" cy="661.6" r="7.1"/>
<circle cx="327.0" cy="610.7" r="7.1"/>
<circle cx="492.4" cy="519.9" r="7.1"/>
<circle cx="578.4" cy="517.6" r="7.1"/>
<circle cx="352.8" cy="616.1" r="7.1"/>
<circle cx="586.4" cy="530.0" r="7.1"/>
<circle cx="633.5" cy="497.0" r="7.1"/>
<circle cx="574.9" cy="578.4" r="7.1"/>
<circle cx="535.6" cy="503.1" r="7.1"/>
<circle cx="537.3" cy="620.6" r="7.1"/>
<circle cx="454.8" cy="535.8" r="7.1"/>
<circle cx="382.4" cy="576.8" r="7.1"/>
<circle cx="536.2" cy="644.3" r="7.1"/>
<circle cx="595.3" cy="561.7" r="7.1"/>
<circle cx="326.6" cy="694.4" r="7.1"/>
<circle cx="297.9" cy="633.2" r="7.1"/>
<circle cx="299.7" cy="665.8" r="7.1"/>
<circle cx="608.6" cy="595.1" r="7.1"/>
<circle cx="320.6" cy="686.7" r="7.1"/>
<circle cx="467.2" cy="518.0" r="7.1"/>
<circle cx="326.3" cy="678.0" r="7.1"/>
<circle cx="313.9" cy="647.6" r="7.1"/>
<circle cx="461.3" cy="688.2" r="7.1"/>
<circle cx="564.3" cy="515.9" r="7.1"/>
<circle cx="578.8" cy="591.9" r="7.1"/>
<circle cx="462.2" cy="535.7" r="7.1"/>
<circle cx="321.7" cy="661.0" r="7.1"/>
<circle cx="462.5" cy="526.4" r="7.1"/>
<circle cx="319.3" cy="648.2" r="7.1"/>
<circle cx="332.9" cy="675.2" r="7.1"/>
<circle cx="446.4" cy="540.3" r="7.1"/>
<circle cx="596.9" cy="556.8" r="7.1"/>
<circle cx="599.9" cy="501.1" r="7.1"/>
<circle cx="642.9" cy="506.2" r="7.1"/>
<circle cx="367.3" cy="587.2" r="7.1"/>
<circle cx="596.6" cy="543.1" r="7.1"/>
<circle cx="572.2" cy="535.6" r="7.1"/>
<circle cx="393.6" cy="553.8" r="7.1"/>
<circle cx="573.0" cy="515.1" r="7.1"/>
<circle cx="453.1" cy="529.1" r="7.1"/>
<circle cx="438.3" cy="526.9" r="7.1"/>
<circle cx="564.5" cy="529.7" r="7.1"/>
<circle cx="359.2" cy="693.0" r="7.1"/>
<circle cx="491.5" cy="672.7" r="7.1"/>
<circle cx="459.1" cy="537.9" r="7.1"/>
<circle cx="532.5" cy="631.8" r="7.1"/>
<circle cx="361.8" cy="571.0" r="7.1"/>
<circle cx="451.7" cy="693.6" r="7.1"/>
<circle cx="648.1" cy="558.4" r="7.1"/>
<circle cx="458.8" cy="688.7" r="7.1"/>
<circle cx="317.8" cy="632.9" r="7.1"/>
<circle cx="570.1" cy="535.1" r="7.1"/>
<circle cx="533.6" cy="647.6" r="7.1"/>
<circle cx="283.9" cy="667.0" r="7.1"/>
<circle cx="428.9" cy="525.2" r="7.1"/>
<circle cx="590.8" cy="512.6" r="7.1"/>
<circle cx="536.7" cy="526.3" r="7.1"/>
<circle cx="615.8" cy="503.2" r="7.1"/>
<circle cx="602.5" cy="482.8" r="7.1"/>
<circle cx="565.4" cy="527.3" r="7.1"/>
<circle cx="300.4" cy="637.8" r="7.1"/>
<circle cx="521.1" cy="518.2" r="7.1"/>
<circle cx="584.4" cy="525.0" r="7.1"/>
<circle cx="384.9" cy="562.7" r="7.1"/>
<circle cx="510.9" cy="527.5" r="7.1"/>
<circle cx="576.7" cy="497.6" r="7.1"/>
<circle cx="543.5" cy="514.6" r="7.1"/>
<circle cx="589.5" cy="536.2" r="7.1"/>
<circle cx="335.0" cy="678.3" r="7.1"/>
<circle cx="604.0" cy="592.6" r="7.1"/>
<circle cx="604.4" cy="544.1" r="7.1"/>
<circle cx="486.7" cy="511.7" r="7.1"/>
<circle cx="605.5" cy="538.4" r="7.1"/>
<circle cx="637.6" cy="536.4" r="7.1"/>
<circle cx="293.2" cy="672.7" r="7.1"/>
<circle cx="614.2" cy="579.2" r="7.1"/>
<circle cx="604.3" cy="566.3" r="7.1"/>
<circle cx="497.3" cy="523.1" r="7.1"/>
<circle cx="608.3" cy="579.4" r="7.1"/>
<circle cx="312.3" cy="656.9" r="7.1"/>
<circle cx="625.7" cy="521.6" r="7.1"/>
<circle cx="618.6" cy="593.4" r="7.1"/>
<circle cx="581.8" cy="611.3" r="7.1"/>
<circle cx="561.9" cy="498.0" r="7.1"/>
<circle cx="590.9" cy="617.6" r="7.1"/>
<circle cx="489.3" cy="500.6" r="7.1"/>
<circle cx="385.2" cy="581.1" r="7.1"/>
<circle cx="548.0" cy="529.8" r="7.1"/>
<circle cx="440.5" cy="540.3" r="7.1"/>
<circle cx="627.8" cy="535.8" r="7.1"/>
<circle cx="577.8" cy="525.2" r="7.1"/>
<circle cx="417.8" cy="549.0" r="7.1"/>
<circle cx="541.0" cy="631.4" r="7.1"/>
<circle cx="582.6" cy="592.0" r="7.1"/>
<circle cx="578.9" cy="534.0" r="7.1"/>
<circle cx="316.1" cy="644.6" r="7.1"/>
<circle cx="360.0" cy="587.7" r="7.1"/>
<circle cx="594.3" cy="586.9" r="7.1"/>
<circle cx="604.4" cy="550.6" r="7.1"/>
<circle cx="326.3" cy="651.6" r="7.1"/>
<circle cx="360.2" cy="694.3" r="7.1"/>
<circle cx="396.1" cy="556.9" r="7.1"/>
<circle cx="503.3" cy="659.5" r="7.1"/>
<circle cx="316.9" cy="663.5" r="7.1"/>
<circle cx="333.1" cy="635.6" r="7.1"/>
<circle cx="566.8" cy="496.5" r="7.1"/>
<circle cx="378.6" cy="582.6" r="7.1"/>
<circle cx="408.0" cy="545.8" r="7.1"/>
<circle cx="597.6" cy="542.2" r="7.1"/>
<circle cx="521.3" cy="646.6" r="7.1"/>
<circle cx="573.3" cy="523.6" r="7.1"/>
<circle cx="575.8" cy="585.1" r="7.1"/>
<circle cx="611.3" cy="601.5" r="7.1"/>
<circle cx="630.5" cy="535.0" r="7.1"/>
<circle cx="633.6" cy="519.5" r="7.1"/>
<circle cx="570.6" cy="611.2" r="7.1"/>
<circle cx="553.5" cy="603.3" r="7.1"/>
<circle cx="575.9" cy="618.0" r="7.1"/>
<circle cx="643.2" cy="501.2" r="7.1"/>
<circle cx="533.7" cy="655.0" r="7.1"/>
<circle cx="583.1" cy="503.2" r="7.1"/>
<circle cx="490.2" cy="515.3" r="7.1"/>
<circle cx="627.1" cy="495.5" r="7.1"/>
<circle cx="627.3" cy="502.8" r="7.1"/>
<circle cx="551.2" cy="632.4" r="7.1"/>
<circle cx="424.8" cy="540.0" r="7.1"/>
<circle cx="604.8" cy="486.4" r="7.1"/>
<circle cx="338.5" cy="589.4" r="7.1"/>
<circle cx="405.8" cy="551.7" r="7.1"/>
<circle cx="623.2" cy="501.7" r="7.1"/>
<circle cx="584.2" cy="502.5" r="7.1"/>
<circle cx="636.7" cy="567.3" r="7.1"/>
<circle cx="326.9" cy="645.3" r="7.1"/>
<circle cx="525.5" cy="511.1" r="7.1"/>
<circle cx="523.7" cy="527.5" r="7.1"/>
<circle cx="634.9" cy="593.0" r="7.1"/>
<circle cx="671.4" cy="561.0" r="7.1"/>
<circle cx="686.6" cy="529.5" r="7.1"/>
<circle cx="637.6" cy="518.0" r="7.1"/>
<circle cx="288.6" cy="690.3" r="7.1"/>
<circle cx="584.6" cy="614.0" r="7.1"/>
<circle cx="288.0" cy="650.8" r="7.1"/>
<circle cx="542.7" cy="507.5" r="7.1"/>
<circle cx="619.0" cy="508.4" r="7.1"/>
<circle cx="587.8" cy="510.1" r="7.1"/>
<circle cx="524.6" cy="646.9" r="7.1"/>
<circle cx="616.8" cy="559.9" r="7.1"/>
<circle cx="413.3" cy="556.6" r="7.1"/>
<circle cx="565.2" cy="499.6" r="7.1"/>
<circle cx="569.2" cy="583.0" r="7.1"/>
<circle cx="573.4" cy="522.9" r="7.1"/>
<circle cx="595.1" cy="605.9" r="7.1"/>
<circle cx="672.9" cy="552.2" r="7.1"/>
<circle cx="371.5" cy="593.9" r="7.1"/>
<circle cx="577.5" cy="514.5" r="7.1"/>
<circle cx="601.0" cy="524.0" r="7.1"/>
<circle cx="605.0" cy="595.0" r="7.1"/>
<circle cx="629.6" cy="537.6" r="7.1"/>
<circle cx="636.9" cy="556.4" r="7.1"/>
<circle cx="540.5" cy="520.3" r="7.1"/>
<circle cx="489.9" cy="683.6" r="7.1"/>
<circle cx="360.3" cy="698.9" r="7.1"/>
<circle cx="643.8" cy="558.5" r="7.1"/>
<circle cx="494.6" cy="521.8" r="7.1"/>
<circle cx="620.6" cy="524.3" r="7.1"/>
<circle cx="602.3" cy="549.5" r="7.1"/>
<circle cx="595.4" cy="566.2" r="7.1"/>
<circle cx="503.2" cy="659.2" r="7.1"/>
<circle cx="317.1" cy="651.9" r="7.1"/>
<circle cx="473.8" cy="523.1" r="7.1"/>
<circle cx="478.1" cy="528.8" r="7.1"/>
<circle cx="513.5" cy="664.1" r="7.1"/>
<circle cx="563.4" cy="616.6" r="7.1"/>
<circle cx="526.9" cy="652.3" r="7.1"/>
<circle cx="375.8" cy="588.0" r="7.1"/>
<circle cx="580.1" cy="507.1" r="7.1"/>
<circle cx="582.4" cy="604.9" r="7.1"/>
<circle cx="609.5" cy="574.1" r="7.1"/>
<circle cx="588.8" cy="495.8" r="7.1"/>
<circle cx="574.9" cy="512.6" r="7.1"/>
<circle cx="595.5" cy="572.8" r="7.1"/>
<circle cx="602.4" cy="597.2" r="7.1"/>
<circle cx="429.6" cy="544.9" r="7.1"/>
<circle cx="621.0" cy="550.7" r="7.1"/>
<circle cx="600.2" cy="507.8" r="7.1"/>
<circle cx="597.8" cy="569.3" r="7.1"/>
<circle cx="592.9" cy="586.8" r="7.1"/>
<circle cx="395.7" cy="558.4" r="7.1"/>
<circle cx="472.4" cy="525.9" r="7.1"/>
<circle cx="644.9" cy="556.1" r="7.1"/>
<circle cx="463.5" cy="535.4" r="7.1"/>
<circle cx="548.1" cy="634.2" r="7.1"/>
<circle cx="602.3" cy="598.2" r="7.1"/>
<circle cx="655.0" cy="549.2" r="7.1"/>
<circle cx="600.3" cy="524.0" r="7.1"/>
<circle cx="645.3" cy="542.9" r="7.1"/>
<circle cx="364.9" cy="578.8" r="7.1"/>
<circle cx="325.4" cy="687.9" r="7.1"/>
<circle cx="605.2" cy="481.5" r="7.1"/>
<circle cx="684.6" cy="527.6" r="7.1"/>
<circle cx="330.7" cy="663.4" r="7.1"/>
<circle cx="335.0" cy="681.7" r="7.1"/>
<circle cx="618.3" cy="547.7" r="7.1"/>
<circle cx="484.0" cy="678.3" r="7.1"/>
<circle cx="611.3" cy="526.8" r="7.1"/>
<circle cx="418.9" cy="692.8" r="7.1"/>
<circle cx="332.3" cy="619.9" r="7.1"/>
<circle cx="598.4" cy="541.3" r="7.1"/>
<circle cx="625.1" cy="501.5" r="7.1"/>
<circle cx="455.4" cy="520.8" r="7.1"/>
<circle cx="547.5" cy="531.1" r="7.1"/>
<circle cx="526.8" cy="521.0" r="7.1"/>
<circle cx="488.7" cy="522.9" r="7.1"/>
<circle cx="626.4" cy="538.7" r="7.1"/>
<circle cx="608.0" cy="504.0" r="7.1"/>
<circle cx="426.3" cy="695.2" r="7.1"/>
<circle cx="448.1" cy="519.0" r="7.1"/>
<circle cx="578.8" cy="525.2" r="7.1"/>
<circle cx="377.1" cy="590.3" r="7.1"/>
<circle cx="325.4" cy="635.0" r="7.1"/>
<circle cx="637.7" cy="519.5" r="7.1"/>
<circle cx="324.9" cy="643.0" r="7.1"/>
<circle cx="318.4" cy="671.5" r="7.1"/>
<circle cx="561.8" cy="621.4" r="7.1"/>
<circle cx="297.9" cy="655.1" r="7.1"/>
<circle cx="593.5" cy="583.6" r="7.1"/>
<circle cx="607.1" cy="504.4" r="7.1"/>
<circle cx="603.4" cy="506.2" r="7.1"/>
<circle cx="562.8" cy="600.2" r="7.1"/>
<circle cx="324.7" cy="637.5" r="7.1"/>
<circle cx="600.0" cy="555.2" r="7.1"/>
<circle cx="678.1" cy="498.9" r="7.1"/>
<circle cx="611.3" cy="485.1" r="7.1"/>
<circle cx="467.7" cy="520.3" r="7.1"/>
<circle cx="472.4" cy="536.9" r="7.1"/>
<circle cx="616.7" cy="595.7" r="7.1"/>
<circle cx="446.3" cy="516.8" r="7.1"/>
<circle cx="490.6" cy="678.0" r="7.1"/>
<circle cx="586.5" cy="535.2" r="7.1"/>
<circle cx="429.4" cy="549.7" r="7.1"/>
<circle cx="404.5" cy="554.6" r="7.1"/>
<circle cx="378.2" cy="584.3" r="7.1"/>
<circle cx="345.7" cy="614.4" r="7.1"/>
<circle cx="651.1" cy="547.5" r="7.1"/>
<circle cx="647.8" cy="522.3" r="7.1"/>
<circle cx="380.4" cy="585.2" r="7.1"/>
<circle cx="463.5" cy="540.0" r="7.1"/>
<circle cx="323.8" cy="641.5" r="7.1"/>
<circle cx="290.4" cy="741.0" r="7.1"/>
<circle cx="295.2" cy="741.0" r="7.1"/>
<circle cx="302.2" cy="741.0" r="7.1"/>
<circle cx="305.3" cy="741.0" r="7.1"/>
<circle cx="310.7" cy="741.0" r="7.1"/>
<circle cx="316.4" cy="741.0" r="7.1"/>
<circle cx="322.2" cy="741.0" r="7.1"/>
<circle cx="325.8" cy="741.0" r="7.1"/>
<circle cx="331.4" cy="741.0" r="7.1"/>
<circle cx="338.7" cy="741.0" r="7.1"/>
<circle cx="342.6" cy="741.0" r="7.1"/>
<circle cx="348.8" cy="741.0" r="7.1"/>
<circle cx="352.8" cy="741.0" r="7.1"/>
<circle cx="356.9" cy="741.0" r="7.1"/>
<circle cx="365.2" cy="741.0" r="7.1"/>
<circle cx="370.0" cy="741.0" r="7.1"/>
<circle cx="376.4" cy="741.0" r="7.1"/>
<circle cx="382.4" cy="741.0" r="7.1"/>
<circle cx="389.0" cy="741.0" r="7.1"/>
<circle cx="393.6" cy="741.0" r="7.1"/>
<circle cx="400.2" cy="741.0" r="7.1"/>
<circle cx="404.3" cy="741.0" r="7.1"/>
<circle cx="409.1" cy="741.0" r="7.1"/>
<circle cx="413.3" cy="741.0" r="7.1"/>
<circle cx="417.9" cy="741.0" r="7.1"/>
<circle cx="423.1" cy="741.0" r="7.1"/>
<circle cx="430.0" cy="741.0" r="7.1"/>
<circle cx="285.0" cy="727.7" r="7.1"/>
<circle cx="288.3" cy="727.7" r="7.1"/>
<circle cx="293.7" cy="727.7" r="7.1"/>
<circle cx="298.3" cy="727.7" r="7.1"/>
<circle cx="303.4" cy="727.7" r="7.1"/>
<circle cx="306.5" cy="727.7" r="7.1"/>
<circle cx="309.1" cy="727.7" r="7.1"/>
<circle cx="311.7" cy="727.7" r="7.1"/>
<circle cx="312.2" cy="727.7" r="7.1"/>
<circle cx="316.7" cy="727.7" r="7.1"/>
<circle cx="320.4" cy="727.7" r="7.1"/>
<circle cx="325.0" cy="727.7" r="7.1"/>
<circle cx="328.9" cy="727.7" r="7.1"/>
<circle cx="333.2" cy="727.7" r="7.1"/>
<circle cx="336.6" cy="727.7" r="7.1"/>
<circle cx="338.4" cy="727.7" r="7.1"/>
<circle cx="342.4" cy="727.7" r="7.1"/>
<circle cx="348.0" cy="727.7" r="7.1"/>
<circle cx="351.7" cy="727.7" r="7.1"/>
<circle cx="354.7" cy="727.7" r="7.1"/>
<circle cx="358.6" cy="727.7" r="7.1"/>
<circle cx="362.7" cy="727.7" r="7.1"/>
<circle cx="367.1" cy="727.7" r="7.1"/>
<circle cx="369.9" cy="727.7" r="7.1"/>
<circle cx="371.5" cy="727.7" r="7.1"/>
<circle cx="373.5" cy="727.7" r="7.1"/>
<circle cx="377.5" cy="727.7" r="7.1"/>
<circle cx="381.7" cy="727.7" r="7.1"/>
<circle cx="386.9" cy="727.7" r="7.1"/>
<circle cx="389.5" cy="727.7" r="7.1"/>
<circle cx="393.4" cy="727.7" r="7.1"/>
<circle cx="396.4" cy="727.7" r="7.1"/>
<circle cx="399.5" cy="727.7" r="7.1"/>
<circle cx="401.9" cy="727.7" r="7.1"/>
<circle cx="404.8" cy="727.7" r="7.1"/>
<circle cx="408.8" cy="727.7" r="7.1"/>
<circle cx="411.8" cy="727.7" r="7.1"/>
<circle cx="415.8" cy="727.7" r="7.1"/>
<circle cx="418.7" cy="727.7" r="7.1"/>
<circle cx="421.7" cy="727.7" r="7.1"/>
<circle cx="427.3" cy="727.7" r="7.1"/>
<circle cx="431.2" cy="727.7" r="7.1"/>
<circle cx="433.3" cy="727.7" r="7.1"/>
<circle cx="435.0" cy="727.7" r="7.1"/>
<circle cx="438.1" cy="727.7" r="7.1"/>
<circle cx="287.2" cy="715.8" r="7.1"/>
<circle cx="290.3" cy="715.8" r="7.1"/>
<circle cx="293.2" cy="715.8" r="7.1"/>
<circle cx="297.0" cy="715.8" r="7.1"/>
<circle cx="301.0" cy="715.8" r="7.1"/>
<circle cx="302.8" cy="715.8" r="7.1"/>
<circle cx="306.4" cy="715.8" r="7.1"/>
<circle cx="309.7" cy="715.8" r="7.1"/>
<circle cx="311.3" cy="715.8" r="7.1"/>
<circle cx="314.0" cy="715.8" r="7.1"/>
<circle cx="317.1" cy="715.8" r="7.1"/>
<circle cx="321.6" cy="715.8" r="7.1"/>
<circle cx="323.3" cy="715.8" r="7.1"/>
<circle cx="326.2" cy="715.8" r="7.1"/>
<circle cx="329.5" cy="715.8" r="7.1"/>
<circle cx="331.1" cy="715.8" r="7.1"/>
<circle cx="332.0" cy="715.8" r="7.1"/>
<circle cx="335.6" cy="715.8" r="7.1"/>
<circle cx="338.1" cy="715.8" r="7.1"/>
<circle cx="340.9" cy="715.8" r="7.1"/>
<circle cx="341.9" cy="715.8" r="7.1"/>
<circle cx="344.9" cy="715.8" r="7.1"/>
<circle cx="345.4" cy="715.8" r="7.1"/>
<circle cx="347.8" cy="715.8" r="7.1"/>
<circle cx="350.1" cy="715.8" r="7.1"/>
<circle cx="353.3" cy="715.8" r="7.1"/>
<circle cx="355.7" cy="715.8" r="7.1"/>
<circle cx="358.1" cy="715.8" r="7.1"/>
<circle cx="360.9" cy="715.8" r="7.1"/>
<circle cx="365.4" cy="715.8" r="7.1"/>
<circle cx="368.3" cy="715.8" r="7.1"/>
<circle cx="370.4" cy="715.8" r="7.1"/>
<circle cx="374.0" cy="715.8" r="7.1"/>
<circle cx="379.1" cy="715.8" r="7.1"/>
<circle cx="381.3" cy="715.8" r="7.1"/>
<circle cx="383.8" cy="715.8" r="7.1"/>
<circle cx="386.3" cy="715.8" r="7.1"/>
<circle cx="388.9" cy="715.8" r="7.1"/>
<circle cx="390.9" cy="715.8" r="7.1"/>
<circle cx="393.6" cy="715.8" r="7.1"/>
<circle cx="397.9" cy="715.8" r="7.1"/>
<circle cx="399.9" cy="715.8" r="7.1"/>
<circle cx="402.2" cy="715.8" r="7.1"/>
<circle cx="406.4" cy="715.8" r="7.1"/>
<circle cx="409.5" cy="715.8" r="7.1"/>
<circle cx="411.9" cy="715.8" r="7.1"/>
<circle cx="414.4" cy="715.8" r="7.1"/>
<circle cx="417.4" cy="715.8" r="7.1"/>
<circle cx="419.4" cy="715.8" r="7.1"/>
<circle cx="420.9" cy="715.8" r="7.1"/>
<circle cx="423.7" cy="715.8" r="7.1"/>
<circle cx="424.9" cy="715.8" r="7.1"/>
<circle cx="428.9" cy="715.8" r="7.1"/>
<circle cx="433.3" cy="715.8" r="7.1"/>
<circle cx="437.3" cy="715.8" r="7.1"/>
<circle cx="284.2" cy="705.0" r="7.1"/>
<circle cx="287.5" cy="705.0" r="7.1"/>
<circle cx="289.0" cy="705.0" r="7.1"/>
<circle cx="290.4" cy="705.0" r="7.1"/>
<circle cx="293.2" cy="705.0" r="7.1"/>
<circle cx="295.7" cy="705.0" r="7.1"/>
<circle cx="298.3" cy="705.0" r="7.1"/>
<circle cx="299.7" cy="705.0" r="7.1"/>
<circle cx="303.7" cy="705.0" r="7.1"/>
<circle cx="306.5" cy="705.0" r="7.1"/>
<circle cx="307.4" cy="705.0" r="7.1"/>
<circle cx="310.9" cy="705.0" r="7.1"/>
<circle cx="311.5" cy="705.0" r="7.1"/>
<circle cx="314.1" cy="705.0" r="7.1"/>
<circle cx="315.7" cy="705.0" r="7.1"/>
<circle cx="319.2" cy="705.0" r="7.1"/>
<circle cx="321.1" cy="705.0" r="7.1"/>
<circle cx="323.4" cy="705.0" r="7.1"/>
<circle cx="325.7" cy="705.0" r="7.1"/>
<circle cx="328.3" cy="705.0" r="7.1"/>
<circle cx="330.9" cy="705.0" r="7.1"/>
<circle cx="332.2" cy="705.0" r="7.1"/>
<circle cx="334.9" cy="705.0" r="7.1"/>
<circle cx="337.7" cy="705.0" r="7.1"/>
<circle cx="338.9" cy="705.0" r="7.1"/>
<circle cx="341.8" cy="705.0" r="7.1"/>
<circle cx="344.7" cy="705.0" r="7.1"/>
<circle cx="345.7" cy="705.0" r="7.1"/>
<circle cx="349.7" cy="705.0" r="7.1"/>
<circle cx="351.4" cy="705.0" r="7.1"/>
<circle cx="352.2" cy="705.0" r="7.1"/>
<circle cx="354.7" cy="705.0" r="7.1"/>
<circle cx="355.9" cy="705.0" r="7.1"/>
<circle cx="358.9" cy="705.0" r="7.1"/>
<circle cx="361.3" cy="705.0" r="7.1"/>
<circle cx="364.3" cy="705.0" r="7.1"/>
<circle cx="366.5" cy="705.0" r="7.1"/>
<circle cx="369.2" cy="705.0" r="7.1"/>
<circle cx="371.5" cy="705.0" r="7.1"/>
<circle cx="372.2" cy="705.0" r="7.1"/>
<circle cx="376.5" cy="705.0" r="7.1"/>
<circle cx="378.0" cy="705.0" r="7.1"/>
<circle cx="380.0" cy="705.0" r="7.1"/>
<circle cx="382.0" cy="705.0" r="7.1"/>
<circle cx="385.7" cy="705.0" r="7.1"/>
<circle cx="387.5" cy="705.0" r="7.1"/>
<circle cx="389.7" cy="705.0" r="7.1"/>
<circle cx="391.6" cy="705.0" r="7.1"/>
<circle cx="394.3" cy="705.0" r="7.1"/>
<circle cx="396.3" cy="705.0" r="7.1"/>
<circle cx="397.3" cy="705.0" r="7.1"/>
<circle cx="401.4" cy="705.0" r="7.1"/>
<circle cx="402.7" cy="705.0" r="7.1"/>
<circle cx="405.8" cy="705.0" r="7.1"/>
<circle cx="408.1" cy="705.0" r="7.1"/>
<circle cx="408.6" cy="705.0" r="7.1"/>
<circle cx="411.5" cy="705.0" r="7.1"/>
<circle cx="413.5" cy="705.0" r="7.1"/>
<circle cx="414.6" cy="705.0" r="7.1"/>
<circle cx="417.4" cy="705.0" r="7.1"/>
<circle cx="420.8" cy="705.0" r="7.1"/>
<circle cx="422.1" cy="705.0" r="7.1"/>
<circle cx="424.9" cy="705.0" r="7.1"/>
<circle cx="426.2" cy="705.0" r="7.1"/>
<circle cx="427.7" cy="705.0" r="7.1"/>
<circle cx="431.0" cy="705.0" r="7.1"/>
<circle cx="433.2" cy="705.0" r="7.1"/>
<circle cx="436.1" cy="705.0" r="7.1"/>
<circle cx="438.4" cy="705.0" r="7.1"/>
<circle cx="282.1" cy="695.2" r="7.1"/>
<circle cx="284.4" cy="695.2" r="7.1"/>
<circle cx="285.4" cy="695.2" r="7.1"/>
<circle cx="286.5" cy="695.2" r="7.1"/>
<circle cx="290.4" cy="695.2" r="7.1"/>
<circle cx="291.0" cy="695.2" r="7.1"/>
<circle cx="293.4" cy="695.2" r="7.1"/>
<circle cx="294.8" cy="695.2" r="7.1"/>
<circle cx="298.3" cy="695.2" r="7.1"/>
<circle cx="300.1" cy="695.2" r="7.1"/>
<circle cx="301.5" cy="695.2" r="7.1"/>
<circle cx="302.7" cy="695.2" r="7.1"/>
<circle cx="304.1" cy="695.2" r="7.1"/>
<circle cx="307.2" cy="695.2" r="7.1"/>
<circle cx="308.2" cy="695.2" r="7.1"/>
<circle cx="310.5" cy="695.2" r="7.1"/>
<circle cx="312.6" cy="695.2" r="7.1"/>
<circle cx="315.8" cy="695.2" r="7.1"/>
<circle cx="318.5" cy="695.2" r="7.1"/>
<circle cx="319.8" cy="695.2" r="7.1"/>
<circle cx="321.6" cy="695.2" r="7.1"/>
<circle cx="324.0" cy="695.2" r="7.1"/>
<circle cx="324.5" cy="695.2" r="7.1"/>
<circle cx="327.0" cy="695.2" r="7.1"/>
<circle cx="329.8" cy="695.2" r="7.1"/>
<circle cx="331.3" cy="695.2" r="7.1"/>
<circle cx="332.5" cy="695.2" r="7.1"/>
<circle cx="335.6" cy="695.2" r="7.1"/>
<circle cx="337.9" cy="695.2" r="7.1"/>
<circle cx="340.2" cy="695.2" r="7.1"/>
<circle cx="342.5" cy="695.2" r="7.1"/>
<circle cx="345.1" cy="695.2" r="7.1"/>
<circle cx="346.6" cy="695.2" r="7.1"/>
<circle cx="349.1" cy="695.2" r="7.1"/>
<circle cx="352.4" cy="695.2" r="7.1"/>
<circle cx="353.0" cy="695.2" r="7.1"/>
<circle cx="353.9" cy="695.2" r="7.1"/>
<circle cx="356.5" cy="695.2" r="7.1"/>
<circle cx="359.0" cy="695.2" r="7.1"/>
<circle cx="360.6" cy="695.2" r="7.1"/>
<circle cx="362.0" cy="695.2" r="7.1"/>
<circle cx="364.9" cy="695.2" r="7.1"/>
<circle cx="366.0" cy="695.2" r="7.1"/>
<circle cx="367.9" cy="695.2" r="7.1"/>
<circle cx="369.5" cy="695.2" r="7.1"/>
<circle cx="372.1" cy="695.2" r="7.1"/>
<circle cx="373.3" cy="695.2" r="7.1"/>
<circle cx="376.0" cy="695.2" r="7.1"/>
<circle cx="378.4" cy="695.2" r="7.1"/>
<circle cx="379.7" cy="695.2" r="7.1"/>
<circle cx="382.9" cy="695.2" r="7.1"/>
<circle cx="385.1" cy="695.2" r="7.1"/>
<circle cx="387.3" cy="695.2" r="7.1"/>
<circle cx="389.3" cy="695.2" r="7.1"/>
<circle cx="391.5" cy="695.2" r="7.1"/>
<circle cx="392.0" cy="695.2" r="7.1"/>
<circle cx="393.8" cy="695.2" r="7.1"/>
<circle cx="395.0" cy="695.2" r="7.1"/>
<circle cx="397.0" cy="695.2" r="7.1"/>
<circle cx="398.6" cy="695.2" r="7.1"/>
<circle cx="402.6" cy="695.2" r="7.1"/>
<circle cx="403.5" cy="695.2" r="7.1"/>
<circle cx="406.6" cy="695.2" r="7.1"/>
<circle cx="408.2" cy="695.2" r="7.1"/>
<circle cx="409.6" cy="695.2" r="7.1"/>
<circle cx="411.7" cy="695.2" r="7.1"/>
<circle cx="413.6" cy="695.2" r="7.1"/>
<circle cx="416.2" cy="695.2" r="7.1"/>
<circle cx="418.9" cy="695.2" r="7.1"/>
<circle cx="419.7" cy="695.2" r="7.1"/>
<circle cx="421.3" cy="695.2" r="7.1"/>
<circle cx="423.0" cy="695.2" r="7.1"/>
<circle cx="425.8" cy="695.2" r="7.1"/>
<circle cx="428.2" cy="695.2" r="7.1"/>
<circle cx="430.1" cy="695.2" r="7.1"/>
<circle cx="430.7" cy="695.2" r="7.1"/>
<circle cx="433.2" cy="695.2" r="7.1"/>
<circle cx="435.4" cy="695.2" r="7.1"/>
<circle cx="438.0" cy="695.2" r="7.1"/>
<circle cx="438.8" cy="695.2" r="7.1"/>
<circle cx="441.6" cy="695.2" r="7.1"/>
<circle cx="442.8" cy="695.2" r="7.1"/>
<circle cx="445.4" cy="695.2" r="7.1"/>
</g>
<line x1="157.40" y1="813.29" x2="1263.25" y2="98.63" stroke="#bebebe" stroke-width="2" stroke-dasharray="8 8" stroke-linecap="round"/>
</g>
<rect x="157.4" y="157.5" width="1105.85" height="606.5" fill="none" stroke="#000" stroke-width="2"/>
<g stroke="#000" stroke-width="2" fill="none">
<line x1="196.11" y1="764.0" x2="196.11" y2="784.0"/>
<line x1="356.25" y1="764.0" x2="356.25" y2="784.0"/>
<line x1="477.38" y1="764.0" x2="477.38" y2="784.0"/>
<line x1="598.51" y1="764.0" x2="598.51" y2="784.0"/>
<line x1="758.65" y1="764.0" x2="758.65" y2="784.0"/>
<line x1="879.78" y1="764.0" x2="879.78" y2="784.0"/>
<line x1="1000.91" y1="764.0" x2="1000.91" y2="784.0"/>
<line x1="1161.05" y1="764.0" x2="1161.05" y2="784.0"/>
<line x1="157.4" y1="684.78" x2="137.4" y2="684.78"/>
<line x1="157.4" y1="606.50" x2="137.4" y2="606.50"/>
<line x1="157.4" y1="528.22" x2="137.4" y2="528.22"/>
<line x1="157.4" y1="424.73" x2="137.4" y2="424.73"/>
<line x1="157.4" y1="346.45" x2="137.4" y2="346.45"/>
<line x1="157.4" y1="268.17" x2="137.4" y2="268.17"/>
<line x1="157.4" y1="164.68" x2="137.4" y2="164.68"/>
</g>
<g font-family="Liberation Sans, sans-serif" font-size="31.8" fill="#000" text-anchor="middle">
<text x="196.11" y="832.6">0.2</text>
<text x="356.25" y="832.6">0.5</text>
<text x="477.38" y="832.6">1.0</text>
<text x="598.51" y="832.6">2.0</text>
<text x="758.65" y="832.6">5.0</text>
<text x="879.78" y="832.6">10.0</text>
<text x="1000.91" y="832.6">20.0</text>
<text x="1161.05" y="832.6">50.0</text>
<text transform="translate(111,684.78) rotate(-90)">0.5</text>
<text transform="translate(111,606.50) rotate(-90)">1.0</text>
<text transform="translate(111,528.22) rotate(-90)">2.0</text>
<text transform="translate(111,424.73) rotate(-90)">5.0</text>
<text transform="translate(111,268.17) rotate(-90)">20.0</text>
<text transform="translate(111,164.68) rotate(-90)">50.0</text>
<text x="710.33" y="910">DESeq-like size factors (tag)</text>
<text transform="translate(36.4,460.75) rotate(-90)">Control size factors (tag)</text>
</g>
</svg></body></html>
